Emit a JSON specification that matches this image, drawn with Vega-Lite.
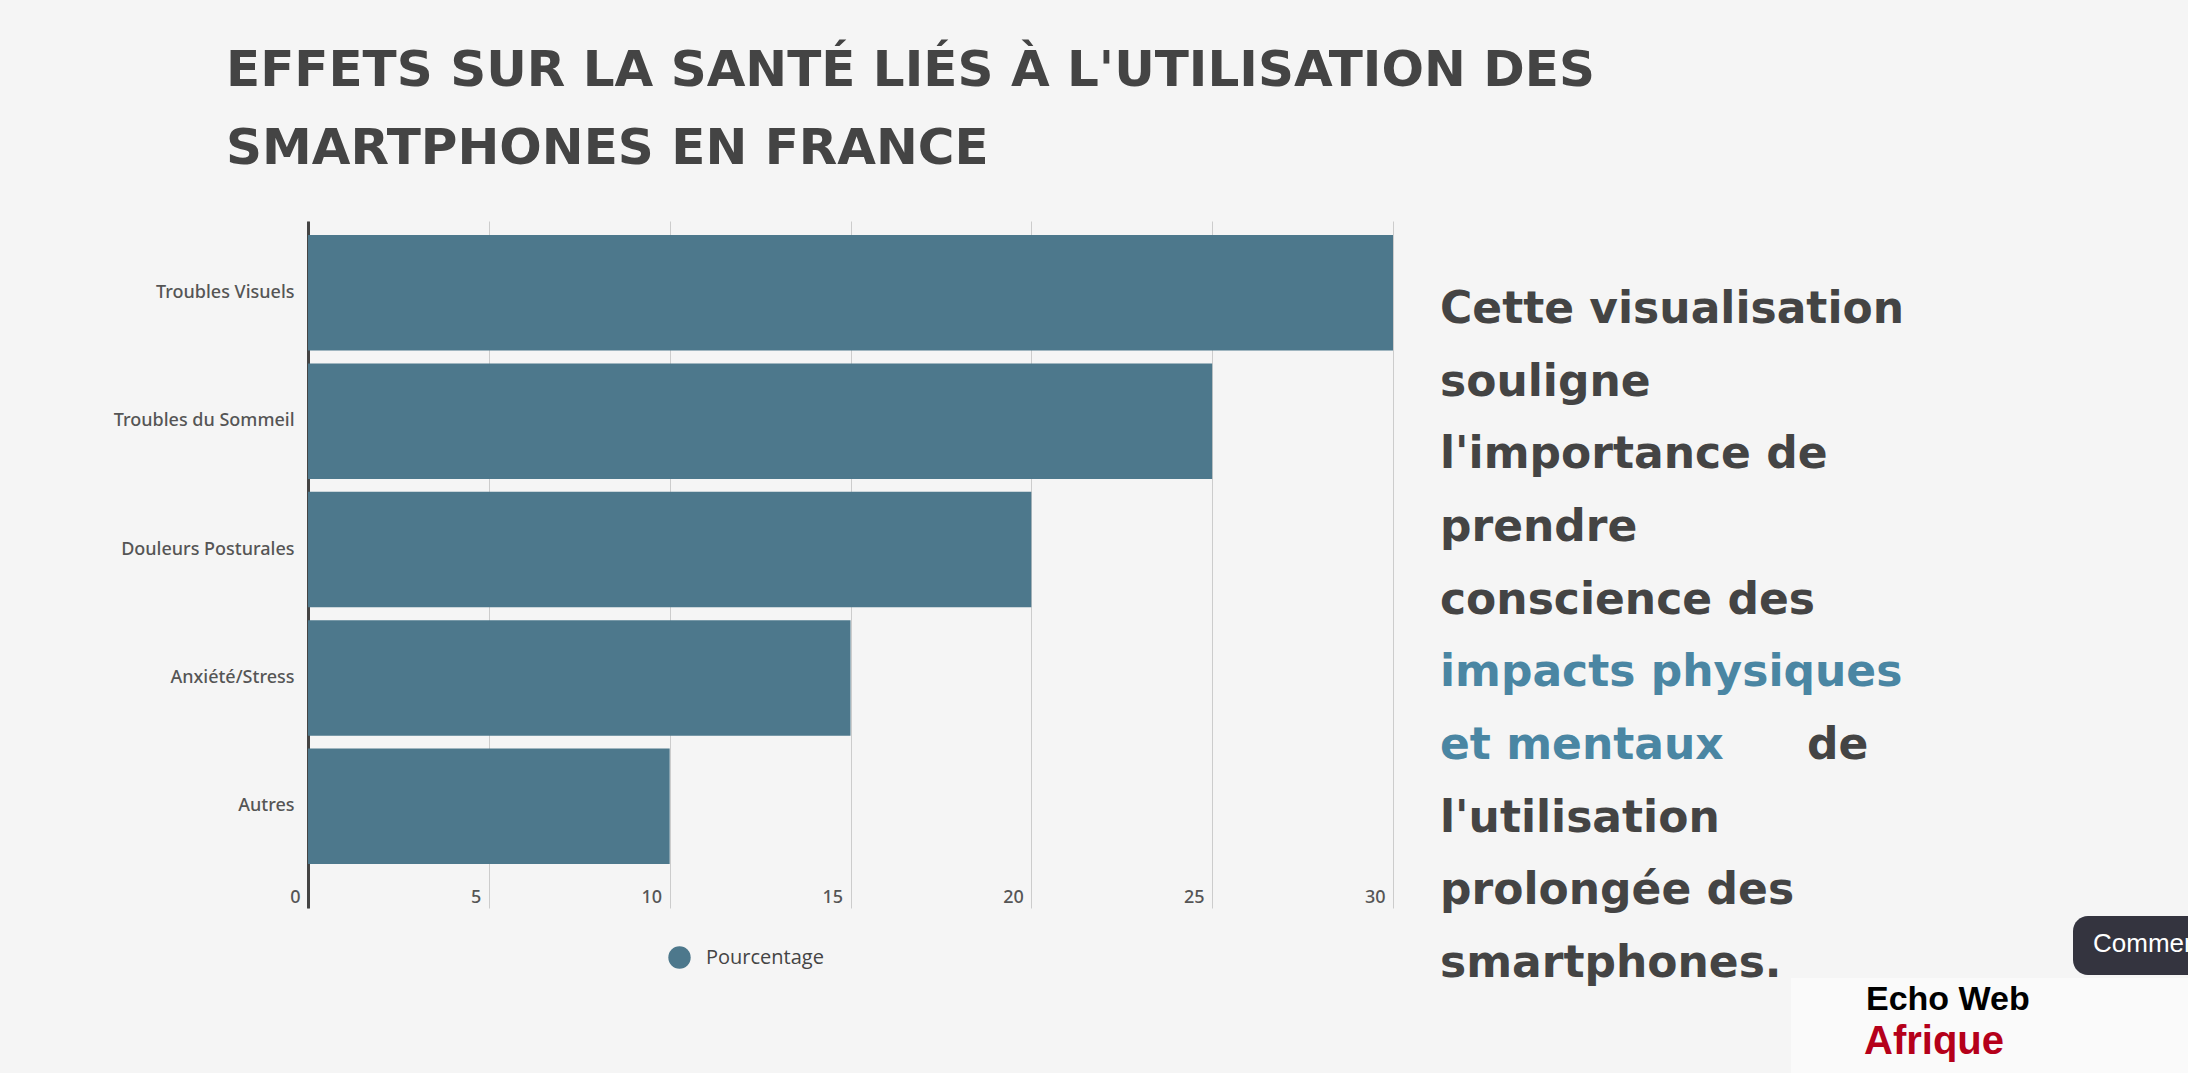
{
"$schema":"https://vega.github.io/schema/vega-lite/v6.json",
"background":"#f5f5f5",
"padding":{"left":108,"top":46,"right":0,"bottom":0},
"title":{"text":["EFFETS SUR LA SANTÉ LIÉS À L'UTILISATION DES","SMARTPHONES EN FRANCE"],"anchor":"start","frame":"group","font":"DejaVu Sans","fontSize":50,"fontWeight":"bold","color":"#444444","lineHeight":78,"dx":-82,"offset":47},
"spacing":47,
"config":{"view":{"stroke":null},"concat":{"spacing":47}},
"datasets":{
"effets":[
{"effet":"Troubles Visuels","Pourcentage":30},
{"effet":"Troubles du Sommeil","Pourcentage":25},
{"effet":"Douleurs Posturales","Pourcentage":20},
{"effet":"Anxiété/Stress","Pourcentage":15},
{"effet":"Autres","Pourcentage":10}],
"texte":[
{"ligne":"1","segment":"début","texte":"Cette visualisation","ton":"normal"},
{"ligne":"2","segment":"début","texte":"souligne","ton":"normal"},
{"ligne":"3","segment":"début","texte":"l'importance de","ton":"normal"},
{"ligne":"4","segment":"début","texte":"prendre","ton":"normal"},
{"ligne":"5","segment":"début","texte":"conscience des","ton":"normal"},
{"ligne":"6","segment":"début","texte":"impacts physiques","ton":"accent"},
{"ligne":"7","segment":"début","texte":"et mentaux","ton":"accent"},
{"ligne":"7","segment":"suite","texte":"de","ton":"normal"},
{"ligne":"8","segment":"début","texte":"l'utilisation","ton":"normal"},
{"ligne":"9","segment":"début","texte":"prolongée des","ton":"normal"},
{"ligne":"10","segment":"début","texte":"smartphones.","ton":"normal"}]
},
"hconcat":[
{"width":1085,"height":687,
"data":{"name":"effets"},
"mark":{"type":"bar"},
"encoding":{
"y":{"field":"effet","type":"nominal","sort":null,"title":null,
"scale":{"paddingInner":0.1,"paddingOuter":0.2255,"align":0.242},
"axis":{"domainColor":"#444444","domainWidth":3,"ticks":false,"labelFont":"Noto Sans","labelFontSize":18,"labelFontWeight":500,"labelColor":"#555555","labelPadding":14,"labelLimit":260,"minExtent":200,"maxExtent":200,"grid":false}},
"x":{"field":"Pourcentage","type":"quantitative","title":null,
"scale":{"domain":[0,30],"nice":false},
"axis":{"values":[0,5,10,15,20,25,30],"domain":false,"ticks":false,"grid":true,"gridColor":"#cccccc","gridWidth":1,"labelFont":"Noto Sans","labelFontSize":18,"labelFontWeight":500,"labelColor":"#555555","labelAlign":"right","labelBaseline":"middle","labelOffset":-8,"labelPadding":-11,"labelFlush":false,"labelOverlap":false}},
"color":{"datum":"Pourcentage","type":"nominal","scale":{"range":["#4d788c"]},
"legend":{"title":null,"orient":"none","legendX":360,"legendY":725,"symbolType":"circle","symbolSize":500,"symbolStrokeWidth":0,"labelFont":"Open Sans","labelFontSize":20,"labelColor":"#444444","labelOffset":15}}
}},
{"width":748,"height":852,
"resolve":{"scale":{"x":"independent","y":"independent","color":"independent","size":"independent"}},
"layer":[
{"data":{"name":"texte"},
"mark":{"type":"text","align":"left","baseline":"middle","font":"DejaVu Sans","fontSize":44,"fontWeight":"bold"},
"encoding":{
"y":{"field":"ligne","type":"nominal","sort":null,"axis":null,"scale":{"type":"point","padding":0,"domain":["1","2","3","4","5","6","7","8","9","10"],"range":[89,743]}},
"x":{"field":"segment","type":"nominal","axis":null,"scale":{"type":"point","padding":0,"domain":["début","suite"],"range":[0,367]}},
"text":{"field":"texte"},
"color":{"field":"ton","type":"nominal","legend":null,"scale":{"domain":["normal","accent"],"range":["#444444","#4a86a3"]}}
}},
{"data":{"values":[{"élément":"logo"}]},
"mark":{"type":"rect","color":"#fafafa"},
"encoding":{
"x":{"field":"élément","type":"nominal","axis":null,"scale":{"type":"band","paddingInner":0,"paddingOuter":0,"range":[351,748]}},
"y":{"field":"élément","type":"nominal","axis":null,"scale":{"type":"band","paddingInner":0,"paddingOuter":0,"range":[757,852]}}
}},
{"data":{"values":[{"élément":"Commentaires"}]},
"mark":{"type":"rect","color":"#34343f","cornerRadius":15},
"encoding":{
"x":{"field":"élément","type":"nominal","axis":null,"scale":{"type":"band","paddingInner":0,"paddingOuter":0,"range":[633,790]}},
"y":{"field":"élément","type":"nominal","axis":null,"scale":{"type":"band","paddingInner":0,"paddingOuter":0,"range":[695,754]}}
}},
{"data":{"values":[{"élément":"Commentaires"}]},
"mark":{"type":"text","clip":true,"align":"left","baseline":"middle","font":"Liberation Sans","fontSize":26,"color":"#ffffff"},
"encoding":{
"text":{"field":"élément"},
"x":{"field":"élément","type":"nominal","axis":null,"scale":{"type":"point","padding":0,"range":[653,653]}},
"y":{"field":"élément","type":"nominal","axis":null,"scale":{"type":"point","padding":0,"range":[723,723]}}
}},
{"data":{"values":[{"logo":"Echo Web"},{"logo":"Afrique"}]},
"mark":{"type":"text","align":"left","baseline":"middle","font":"Liberation Sans","fontWeight":"bold"},
"encoding":{
"text":{"field":"logo"},
"x":{"field":"logo","type":"nominal","axis":null,"scale":{"type":"point","padding":0,"domain":["Echo Web","Afrique"],"range":[426,424]}},
"y":{"field":"logo","type":"nominal","axis":null,"sort":null,"scale":{"type":"point","padding":0,"domain":["Echo Web","Afrique"],"range":[779,821]}},
"size":{"field":"logo","type":"ordinal","legend":null,"scale":{"domain":["Echo Web","Afrique"],"range":[34,40]}},
"color":{"field":"logo","type":"nominal","legend":null,"scale":{"domain":["Echo Web","Afrique"],"range":["#000000","#b5001a"]}}
}}
]}
]
}
